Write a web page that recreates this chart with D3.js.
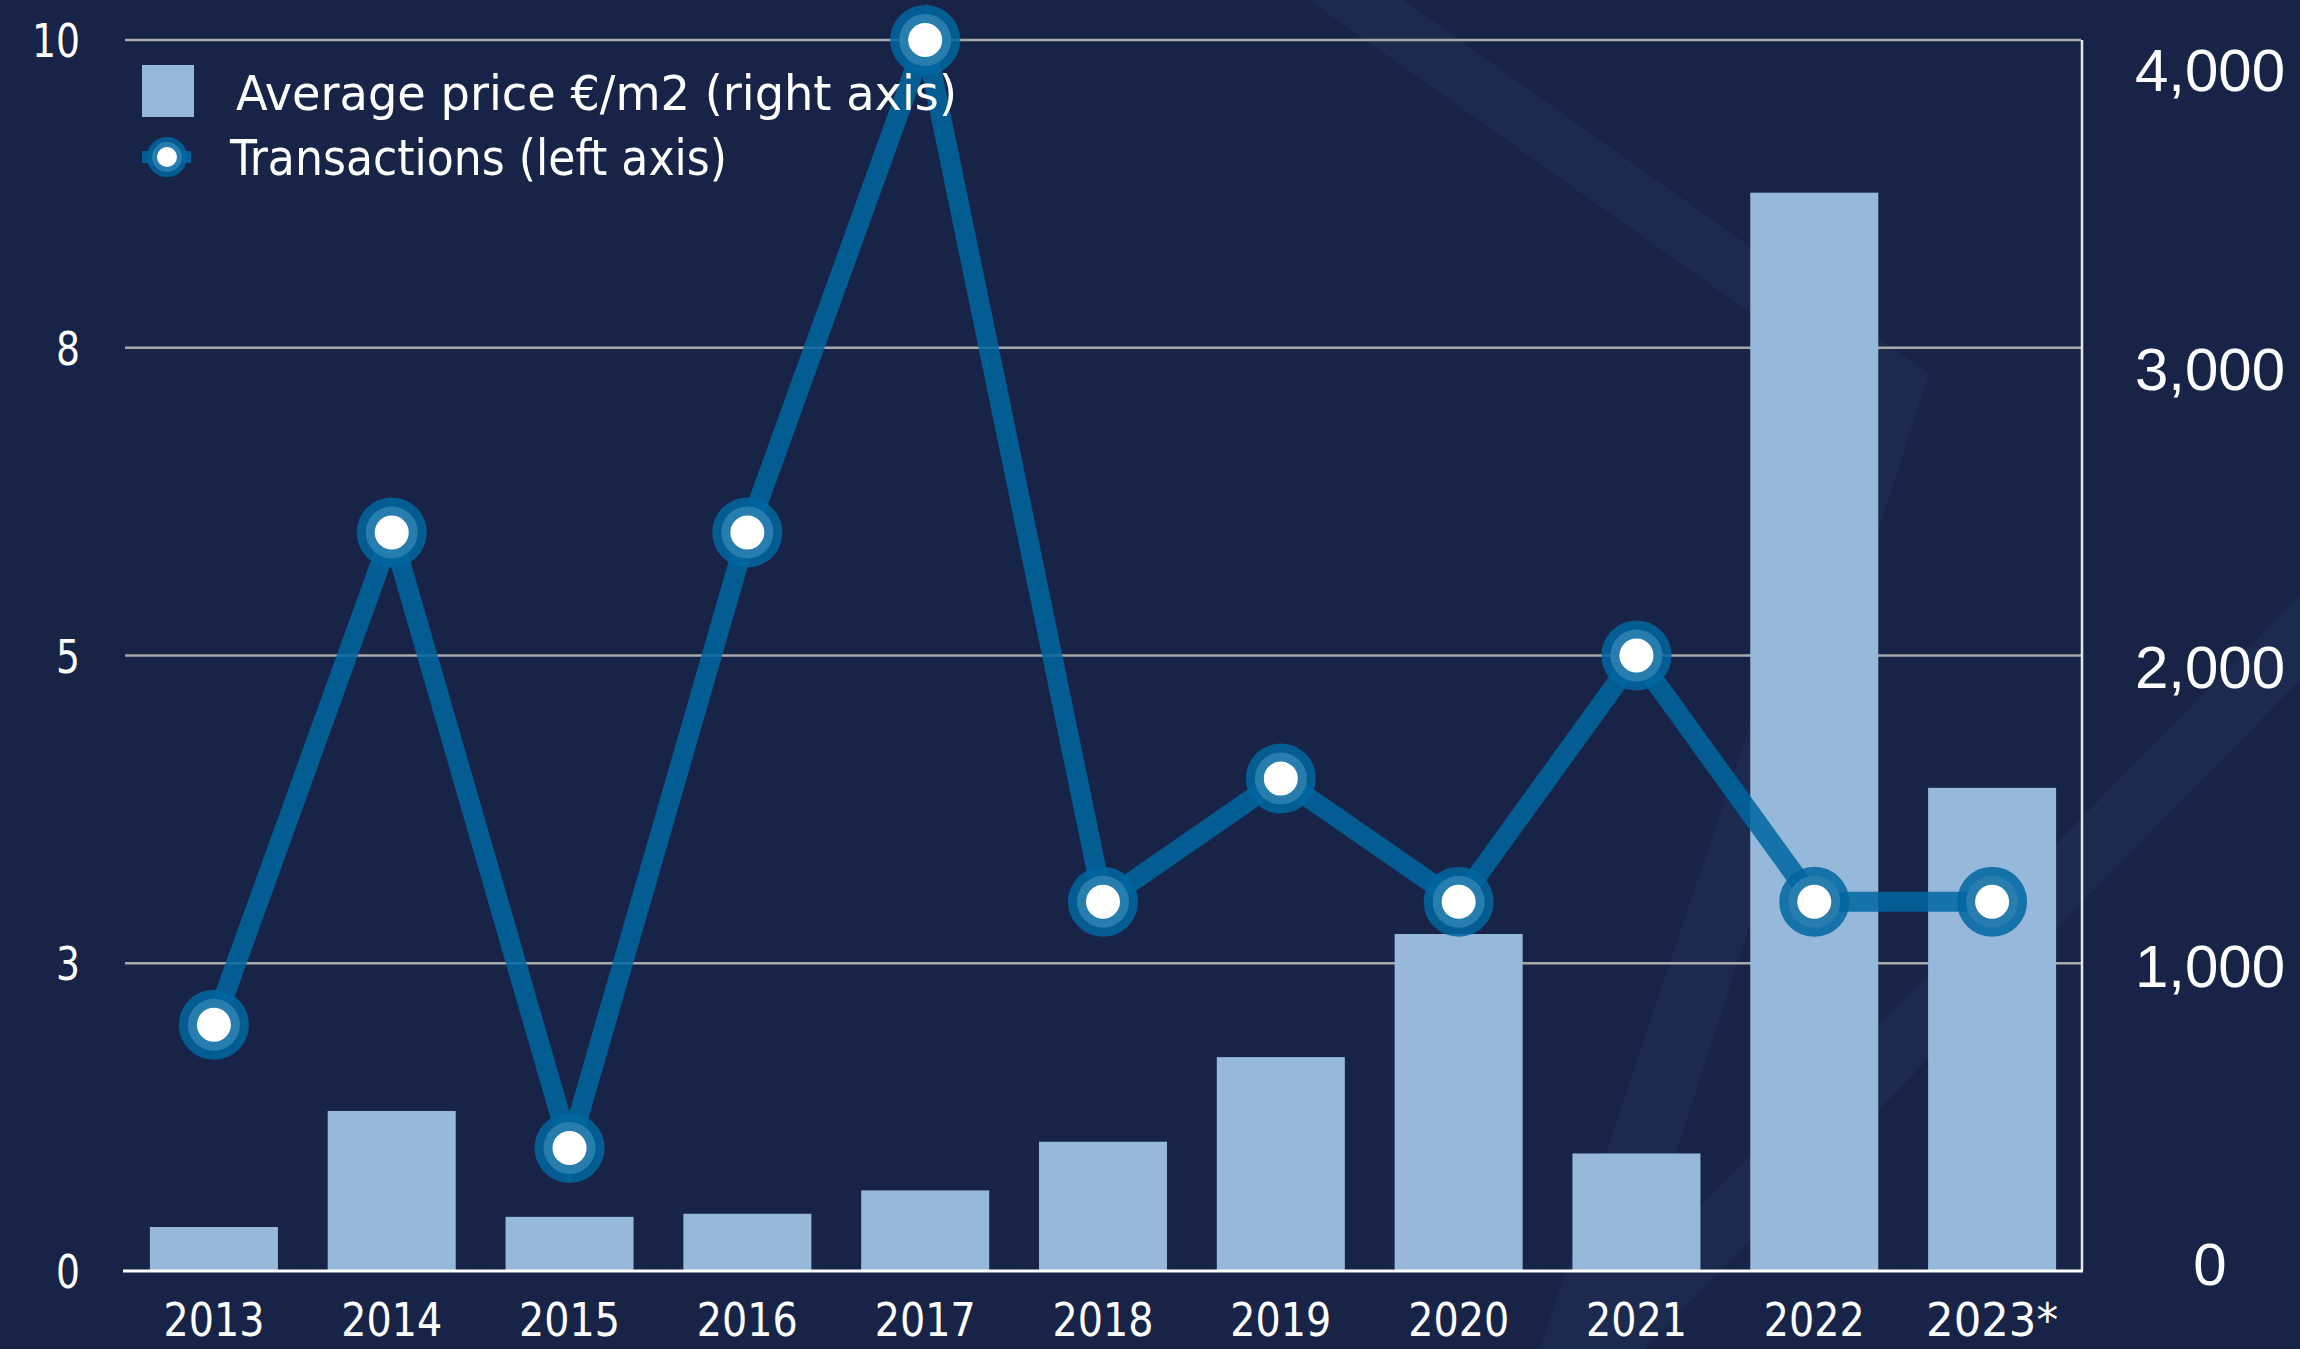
<!DOCTYPE html>
<html>
<head>
<meta charset="utf-8">
<script src="https://cdn.jsdelivr.net/npm/d3@7"></script>
<style>
  body { margin: 0; background: #182447; }
  svg { display: block; }
  .cond { font-family: "DejaVu Sans Condensed", "DejaVu Sans", sans-serif; font-stretch: condensed; fill: #ffffff; }
</style>
</head>
<body>
<svg id="chart"></svg>
<script>
// chart data
var years = ["2013", "2014", "2015", "2016", "2017", "2018", "2019", "2020", "2021", "2022", "2023*"];
var avgPrice = [143, 520, 176, 186, 262, 420, 695, 1095, 382, 3504, 1570];   // €/m2, right axis
var transactions = [2, 6, 1, 6, 10, 3, 4, 3, 5, 3, 3];                      // left axis
var leftTicks = [0, 2.5, 5, 7.5, 10];
var leftTickLabels = ["0", "3", "5", "8", "10"];
var rightTicks = [0, 1000, 2000, 3000, 4000];

var width = 2300, height = 1349;
var plot = { left: 125, right: 2081, top: 40, bottom: 1271 };

var barColor = "#95b8db";
var lineColor = "#0066a0";
var bandColor = "#1d2a50";

var svg = d3.select("#chart")
  .attr("width", width)
  .attr("height", height);

svg.append("rect")
  .attr("width", width)
  .attr("height", height)
  .attr("fill", "#182447");

// faint decorative stripes in the background
var stripes = [
  [[1309, 0], [1403, 0], [1929, 374], [1612, 1349], [1540, 1349], [1862, 392]],
  [[2300, 595], [2300, 680], [1644, 1349], [1561, 1349]]
];
svg.selectAll(".stripe")
  .data(stripes)
  .enter().append("polygon")
  .attr("class", "stripe")
  .attr("points", function(d) { return d.map(function(p) { return p.join(","); }).join(" "); })
  .attr("fill", bandColor);

var x = d3.scaleBand()
  .domain(years)
  .range([plot.left, plot.right])
  .paddingInner(0.28)
  .paddingOuter(0.14);

var yLeft = d3.scaleLinear().domain([0, 10]).range([plot.bottom, plot.top]);
var yRight = d3.scaleLinear().domain([0, 4000]).range([plot.bottom, plot.top]);
// right labels sit a little off the gridlines in the original
var yRightLabel = d3.scaleLinear().domain([0, 4000]).range([1264, 70]);

// gridlines
svg.selectAll(".grid")
  .data(leftTicks.filter(function(d) { return d > 0; }))
  .enter().append("line")
  .attr("class", "grid")
  .attr("x1", plot.left)
  .attr("x2", plot.right)
  .attr("y1", function(d) { return yLeft(d); })
  .attr("y2", function(d) { return yLeft(d); })
  .attr("stroke", "#a9a9a9")
  .attr("stroke-width", 2.5);

// bars
svg.selectAll(".bar")
  .data(avgPrice)
  .enter().append("rect")
  .attr("class", "bar")
  .attr("x", function(d, i) { return x(years[i]); })
  .attr("width", x.bandwidth())
  .attr("y", function(d) { return yRight(d); })
  .attr("height", function(d) { return plot.bottom - yRight(d); })
  .attr("fill", barColor);

// frame: right border and x axis line
svg.append("line")
  .attr("x1", plot.right + 1).attr("x2", plot.right + 1)
  .attr("y1", plot.top).attr("y2", plot.bottom)
  .attr("stroke", "#e6e6e6")
  .attr("stroke-width", 2.5);

svg.append("line")
  .attr("x1", plot.left - 2).attr("x2", plot.right + 2)
  .attr("y1", plot.bottom).attr("y2", plot.bottom)
  .attr("stroke", "#ffffff")
  .attr("stroke-width", 3);

// transactions line
var line = d3.line()
  .x(function(d, i) { return x(years[i]) + x.bandwidth() / 2; })
  .y(function(d) { return yLeft(d); });

svg.append("path")
  .datum(transactions)
  .attr("d", line)
  .attr("fill", "none")
  .attr("stroke", lineColor)
  .attr("stroke-opacity", 0.85)
  .attr("stroke-width", 20)
  .attr("stroke-linejoin", "miter");

svg.selectAll(".marker")
  .data(transactions)
  .enter().append("circle")
  .attr("class", "marker")
  .attr("cx", function(d, i) { return x(years[i]) + x.bandwidth() / 2; })
  .attr("cy", function(d) { return yLeft(d); })
  .attr("r", 26)
  .attr("fill", "#ffffff")
  .attr("stroke", lineColor)
  .attr("stroke-opacity", 0.85)
  .attr("stroke-width", 18);

// left axis labels
svg.selectAll(".ylab")
  .data(leftTicks)
  .enter().append("text")
  .attr("class", "ylab cond")
  .attr("x", 80)
  .attr("y", function(d) { return yLeft(d) + 17; })
  .attr("text-anchor", "end")
  .style("font-size", "47px")
  .attr("textLength", function(d, i) { return leftTickLabels[i].length * 24; })
  .attr("lengthAdjust", "spacingAndGlyphs")
  .text(function(d, i) { return leftTickLabels[i]; });

// right axis labels
svg.selectAll(".y2lab")
  .data(rightTicks)
  .enter().append("text")
  .attr("class", "y2lab")
  .attr("x", 2210)
  .attr("y", function(d) { return yRightLabel(d) + 21; })
  .attr("text-anchor", "middle")
  .style("font-family", "'Liberation Sans', Arial, sans-serif")
  .style("font-size", "60px")
  .style("fill", "#ffffff")
  .text(d3.format(","));

// x labels
svg.selectAll(".xlab")
  .data(years)
  .enter().append("text")
  .attr("class", "xlab cond")
  .attr("x", function(d) { return x(d) + x.bandwidth() / 2; })
  .attr("y", 1336)
  .attr("text-anchor", "middle")
  .style("font-size", "46px")
  .attr("textLength", function(d) { return d.length > 4 ? 132 : 101; })
  .attr("lengthAdjust", "spacingAndGlyphs")
  .text(function(d) { return d; });

// legend
var legend = svg.append("g");

legend.append("rect")
  .attr("x", 142).attr("y", 65)
  .attr("width", 52).attr("height", 52)
  .attr("fill", barColor);

legend.append("text")
  .attr("class", "cond")
  .attr("x", 236).attr("y", 110)
  .style("font-size", "48px")
  .attr("textLength", 721)
  .attr("lengthAdjust", "spacingAndGlyphs")
  .text("Average price €/m2 (right axis)");

legend.append("line")
  .attr("x1", 142).attr("x2", 191)
  .attr("y1", 157).attr("y2", 157)
  .attr("stroke", lineColor)
  .attr("stroke-opacity", 0.85)
  .attr("stroke-width", 12);

legend.append("circle")
  .attr("cx", 167).attr("cy", 157)
  .attr("r", 15)
  .attr("fill", "#ffffff")
  .attr("stroke", lineColor)
  .attr("stroke-opacity", 0.85)
  .attr("stroke-width", 10);

legend.append("text")
  .attr("class", "cond")
  .attr("x", 230).attr("y", 175)
  .style("font-size", "50px")
  .attr("textLength", 497)
  .attr("lengthAdjust", "spacingAndGlyphs")
  .text("Transactions (left axis)");
</script>
</body>
</html>
